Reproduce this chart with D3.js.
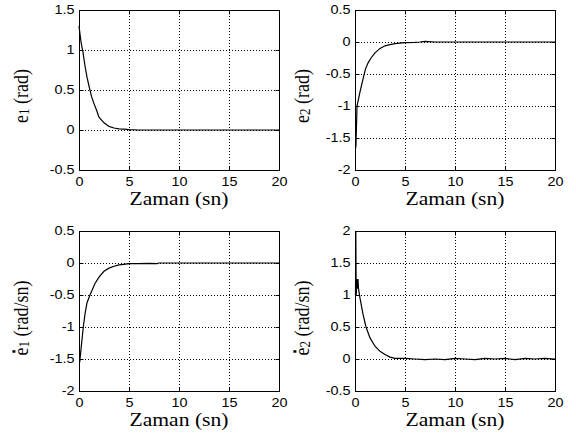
<!DOCTYPE html>
<html>
<head>
<meta charset="utf-8">
<script src="https://cdn.jsdelivr.net/npm/d3@7"></script>
<style>
  body { margin: 0; background: #fff; }
  svg { display: block; }
</style>
</head>
<body>
<div id="chart"></div>
<script>
// four error responses, old matlab style subplots
const timeTicks = [0, 5, 10, 15, 20];

// e1 (rad)
const e1T = [0, 0.1, 0.2, 0.4, 0.6, 0.8, 1.0, 1.25, 1.5, 1.75, 2, 2.5, 3, 3.5, 4, 4.5, 5, 6, 20];
const e1V = [1.3, 1.2, 1.1, 0.97, 0.8, 0.66, 0.55, 0.42, 0.33, 0.25, 0.16, 0.09, 0.045, 0.025, 0.015, 0.01, 0.005, 0, 0];
const e1Ticks = [-0.5, 0, 0.5, 1, 1.5];

// e2 (rad)
const e2T = [0.08, 0.1, 0.15, 0.2, 0.5, 0.8, 1.05, 1.3, 1.6, 2, 2.5, 3, 3.5, 4, 5, 6, 6.5, 7, 8, 20];
const e2V = [-1.65, -1.6, -1.3, -1.0, -0.78, -0.58, -0.42, -0.33, -0.25, -0.17, -0.1, -0.06, -0.04, -0.025, -0.01, -0.005, 0, 0.01, 0, 0];
const e2Ticks = [-2, -1.5, -1, -0.5, 0, 0.5];

// e1 dot (rad/sn)
const e1dT = [0.08, 0.1, 0.2, 0.43, 0.6, 0.8, 1.1, 1.6, 2, 2.5, 3, 3.5, 4, 4.5, 5, 6, 7, 7.8, 8, 20];
const e1dV = [-1.55, -1.5, -1.35, -1.0, -0.8, -0.62, -0.5, -0.32, -0.22, -0.13, -0.08, -0.05, -0.03, -0.02, -0.01, -0.01, -0.005, -0.01, 0, 0];
const e1dTicks = [-2, -1.5, -1, -0.5, 0, 0.5];

// e2 dot (rad/sn)
const e2dT = [0.05, 0.08, 0.1, 0.12, 0.2, 0.25, 0.3, 0.35, 0.5, 0.8, 1.1, 1.5, 2, 2.5, 3, 3.5, 4, 5, 6, 7, 8, 9, 10, 11, 12, 13, 14, 15, 16, 17, 18, 19, 20];
const e2dV = [1.0, 2.0, 1.5, 1.0, 1.25, 1.1, 1.25, 1.1, 0.95, 0.7, 0.5, 0.33, 0.2, 0.12, 0.07, 0.03, 0.01, 0.01, 0, -0.01, 0, -0.01, 0.01, 0, -0.01, 0.01, 0, 0.01, -0.01, 0.01, 0, 0.01, 0];
const e2dTicks = [-0.5, 0, 0.5, 1, 1.5, 2];

const xLabel = "Zaman (sn)";

const W = 576, H = 446;
const SX = 1.2; // glyphs in the picture are a bit wide
const serif = "'Liberation Serif','Times New Roman',serif";
const sans = "'Liberation Sans',Arial,sans-serif";

const svg = d3.select("#chart").append("svg")
    .attr("width", W)
    .attr("height", H);

const panels = [
    { t: e1T, v: e1V, ticks: e1Ticks, x0: 79, x1: 279, y0: 10, y1: 170, sub: "1", unit: " (rad)", dot: false, lx: 28, ly: 96 },
    { t: e2T, v: e2V, ticks: e2Ticks, x0: 355, x1: 555, y0: 10, y1: 170, sub: "2", unit: " (rad)", dot: false, lx: 309, ly: 96 },
    { t: e1dT, v: e1dV, ticks: e1dTicks, x0: 79, x1: 279, y0: 231, y1: 391, sub: "1", unit: " (rad/sn)", dot: true, lx: 28, ly: 318 },
    { t: e2dT, v: e2dV, ticks: e2dTicks, x0: 355, x1: 555, y0: 231, y1: 391, sub: "2", unit: " (rad/sn)", dot: true, lx: 309, ly: 318 }
];

panels.forEach(p => {
    let x = d3.scaleLinear().domain([0, 20]).range([p.x0, p.x1]);
    let y = d3.scaleLinear().domain(d3.extent(p.ticks)).range([p.y1, p.y0]);
    let g = svg.append("g");

    //grid
    g.selectAll(".vgrid")
        .data(timeTicks.slice(1, -1))
        .enter().append("line")
        .attr("x1", d => Math.round(x(d)) + 0.5)
        .attr("x2", d => Math.round(x(d)) + 0.5)
        .attr("y1", p.y0)
        .attr("y2", p.y1)
        .attr("stroke", "#000")
        .attr("stroke-dasharray", "1,2");
    g.selectAll(".hgrid")
        .data(p.ticks.slice(1, -1))
        .enter().append("line")
        .attr("y1", d => Math.round(y(d)) + 0.5)
        .attr("y2", d => Math.round(y(d)) + 0.5)
        .attr("x1", p.x0)
        .attr("x2", p.x1)
        .attr("stroke", "#000")
        .attr("stroke-dasharray", "1,2");

    // axes, ticks point inward
    let left = g.append("g")
        .attr("transform", "translate(" + (p.x0 + 0.5) + ",0)")
        .call(d3.axisLeft(y).tickValues(p.ticks).tickSize(-4).tickPadding(5).tickFormat(d => String(d)));
    let bottom = g.append("g")
        .attr("transform", "translate(0," + (p.y1 + 0.5) + ")")
        .call(d3.axisBottom(x).tickValues(timeTicks).tickSize(-4).tickPadding(7).tickFormat(d => String(d)));
    g.append("g")
        .attr("transform", "translate(" + (p.x1 + 0.5) + ",0)")
        .call(d3.axisRight(y).tickValues(p.ticks).tickSize(-4).tickFormat(""));
    g.append("g")
        .attr("transform", "translate(0," + (p.y0 + 0.5) + ")")
        .call(d3.axisTop(x).tickValues(timeTicks).tickSize(-4).tickFormat(""));

    g.selectAll(".domain").remove();
    g.selectAll(".tick line").attr("stroke", "#000");
    g.selectAll(".tick text")
        .style("font-family", sans)
        .style("font-size", "12px")
        .attr("fill", "#000");
    left.selectAll(".tick text")
        .attr("x", -5 / SX)
        .attr("transform", "scale(" + SX + ",1)");
    bottom.selectAll(".tick text")
        .attr("transform", "scale(" + SX + ",1)");

    g.append("rect")
        .attr("x", p.x0 + 0.5)
        .attr("y", p.y0 + 0.5)
        .attr("width", p.x1 - p.x0)
        .attr("height", p.y1 - p.y0)
        .attr("fill", "none")
        .attr("stroke", "#000");

    // response curve
    let pts = p.t.map((d, i) => [d, p.v[i]]);
    g.append("path")
        .datum(pts)
        .attr("d", d3.line().x(d => x(d[0])).y(d => y(d[1])))
        .attr("fill", "none")
        .attr("stroke", "#000")
        .attr("stroke-width", 1.2);

    // x label
    g.append("text")
        .attr("transform", "translate(" + ((p.x0 + p.x1) / 2) + "," + (p.y1 + 35) + ") scale(" + SX + ",1)")
        .attr("text-anchor", "middle")
        .style("font-family", serif)
        .style("font-size", "18px")
        .text(xLabel);

    // y label
    let lg = g.append("g")
        .attr("transform", "translate(" + p.lx + "," + p.ly + ") scale(" + SX + ",1) rotate(-90)");
    let yl = lg.append("text")
        .attr("text-anchor", "middle")
        .style("font-family", serif)
        .style("font-size", "18px");
    yl.append("tspan").text("e");
    yl.append("tspan").style("font-size", "13px").attr("dy", 1).text(p.sub);
    yl.append("tspan").attr("dy", -1).text(p.unit);

    if (p.dot) {
        let ext = yl.node().getExtentOfChar(0);
        lg.append("rect")
            .attr("x", ext.x + ext.width / 2 - 1.25)
            .attr("y", -13)
            .attr("width", 2.5)
            .attr("height", 2.5)
            .attr("fill", "#000");
    }
});
</script>
</body>
</html>
